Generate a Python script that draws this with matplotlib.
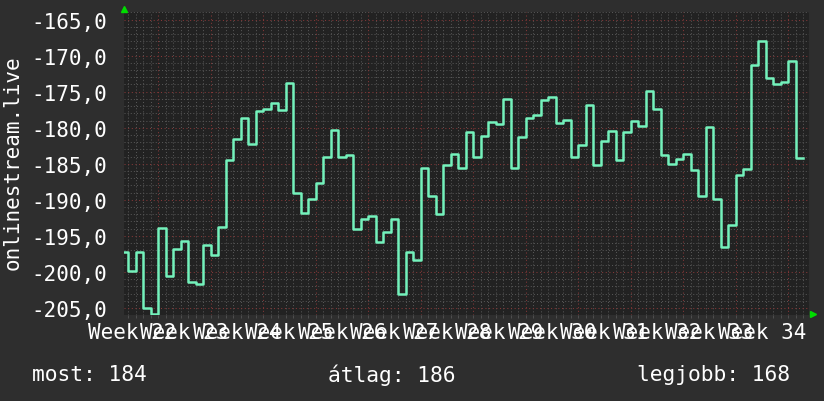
import numpy as np
import matplotlib
matplotlib.use("Agg")
import matplotlib.pyplot as plt
from matplotlib.lines import Line2D
from matplotlib.ticker import FuncFormatter

# daily values, day 0 = first red gridline (start of the week)
first_day = -5
values = [-197.3, -199.8, -197.3, -205.0, -205.8,
          -193.9, -200.6, -196.8, -195.65, -201.4, -201.7, -196.2,
          -197.7, -193.7, -184.5, -181.5, -178.6, -182.2, -177.7,
          -177.4, -176.6, -177.6, -173.75, -189.0, -191.8, -189.9,
          -187.6, -184.0, -180.3, -184.0, -183.75, -194.0, -192.6,
          -192.3, -195.8, -194.4, -192.6, -203.05, -197.2, -198.4,
          -185.6, -189.4, -192.0, -185.2, -183.6, -185.6, -180.6,
          -184.1, -181.2, -179.2, -179.5, -176.0, -185.6, -181.3,
          -178.65, -178.3, -176.1, -175.8, -179.35, -178.9, -184.0,
          -182.45, -176.9, -185.2, -181.8, -180.5, -184.5, -180.6,
          -179.0, -179.7, -174.95, -177.45, -183.75, -185.0, -184.3,
          -183.7, -185.8, -189.5, -179.95, -189.9, -196.5, -193.5,
          -186.6, -185.7, -171.35, -168.0, -173.05, -173.9, -173.6,
          -170.8, -184.2]
week_labels = ["Week %d" % w for w in range(22, 35)]
y_ticks = [-205, -200, -195, -190, -185, -180, -175, -170, -165]
footer = ["most: 184", "átlag: 186", "legjobb: 168"]

days = np.arange(first_day, first_day + len(values) + 1)
vals = values + [values[-1]]

bg = "#2e2e2e"
fig = plt.figure(figsize=(8.24, 4.02), dpi=100, facecolor=bg)
ax = fig.add_axes([124/824, 86/402, 685/824, 303/402])
ax.set_facecolor("#222222")
ax.set_xlim(-4.58, 86.8)
ax.set_ylim(-205.97, -163.95)

# minor grid
for d in range(-4, 87):
    if d % 7:
        ax.axvline(d, color="#555555", lw=0.75, ls=(0, (1, 2)), zorder=1)
for v in range(-205, -163):
    if v % 5:
        ax.axhline(v, color="#555555", lw=0.75, ls=(0, (1, 2)), zorder=1)
# major grid
for d in range(0, 87, 7):
    ax.axvline(d, color="#853838", lw=0.75, ls=(0, (1, 2.5)), zorder=2)
for v in y_ticks:
    ax.axhline(v, color="#853838", lw=0.75, ls=(0, (1, 2.5)), zorder=2)

ax.step(days, vals, where="post", color="#74f2bc", lw=1.8, zorder=5)

mono = "DejaVu Sans Mono"
ax.set_yticks(y_ticks)
ax.yaxis.set_major_formatter(FuncFormatter(lambda v, p: ("%.1f" % v).replace(".", ",")))
ax.set_xticks([-3.5 + 7 * k for k in range(len(week_labels))])
ax.set_xticklabels(week_labels)
ax.set_xticks(range(-4, 87), minor=True)
ax.tick_params(axis="both", which="major", length=0, colors="white", labelsize=15)
ax.tick_params(axis="y", pad=12)
ax.tick_params(axis="x", pad=5)
ax.tick_params(axis="x", which="minor", length=2, color="#555555")
for lab in ax.get_xticklabels() + ax.get_yticklabels():
    lab.set_family(mono)
for s in ax.spines.values():
    s.set_visible(False)

fig.text(13/824, 1 - 163/402, "onlinestream.live", rotation=90, ha="center",
         va="center", color="white", fontsize=15, family=mono)
for x, t in zip([32, 328, 637], footer):
    fig.text(x/824, 1 - 375/402, t, ha="left", va="center", color="white",
             fontsize=15.3, family=mono)

fig.add_artist(Line2D([124/824], [1 - 10/402], marker="^", color="#00dd00",
                      markersize=5, transform=fig.transFigure))
fig.add_artist(Line2D([813/824], [1 - 315/402], marker=">", color="#00dd00",
                      markersize=5, transform=fig.transFigure))

fig.savefig("out.png", dpi=100, facecolor=bg)
